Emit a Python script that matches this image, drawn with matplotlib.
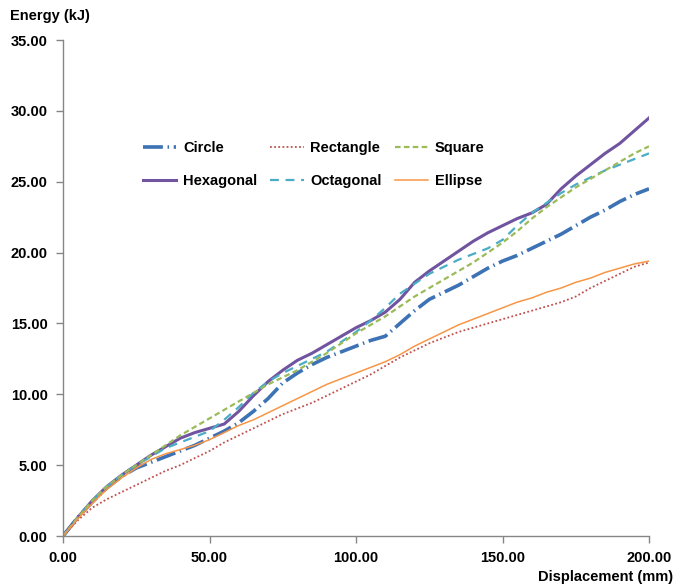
import matplotlib.pyplot as plt
import numpy as np

# displacement (mm)
disp = np.arange(0, 201, 5)

circle = [0, 1.3, 2.4, 3.4, 4.2, 4.8, 5.2, 5.6, 6.0, 6.4, 6.9, 7.4, 8.0, 8.8, 9.7,
          10.8, 11.5, 12.1, 12.6, 13.0, 13.4, 13.8, 14.1, 15.0, 15.9, 16.7, 17.2,
          17.7, 18.3, 18.9, 19.4, 19.8, 20.3, 20.8, 21.3, 21.9, 22.5, 23.0, 23.6,
          24.1, 24.5]
rectangle = [0, 1.1, 2.0, 2.6, 3.1, 3.6, 4.1, 4.6, 5.0, 5.5, 6.0, 6.6, 7.1, 7.6, 8.1,
             8.6, 9.0, 9.4, 9.9, 10.4, 10.9, 11.4, 12.0, 12.6, 13.1, 13.6, 14.0,
             14.4, 14.7, 15.0, 15.3, 15.6, 15.9, 16.2, 16.5, 16.9, 17.5, 18.0, 18.5,
             19.0, 19.3]
square = [0, 1.3, 2.5, 3.5, 4.3, 5.0, 5.7, 6.4, 7.1, 7.7, 8.3, 8.9, 9.5, 10.1, 10.7,
          11.2, 11.7, 12.3, 12.9, 13.6, 14.3, 14.9, 15.5, 16.2, 16.9, 17.5, 18.1,
          18.7, 19.3, 20.0, 20.7, 21.5, 22.4, 23.2, 23.9, 24.6, 25.2, 25.8, 26.4,
          27.0, 27.5]
hexagonal = [0, 1.3, 2.5, 3.5, 4.3, 5.0, 5.7, 6.3, 6.9, 7.3, 7.6, 7.9, 8.8, 9.9, 10.9,
             11.7, 12.4, 12.9, 13.5, 14.1, 14.7, 15.2, 15.8, 16.7, 17.9, 18.7, 19.4,
             20.1, 20.8, 21.4, 21.9, 22.4, 22.8, 23.4, 24.5, 25.4, 26.2, 27.0, 27.7,
             28.6, 29.5]
octagonal = [0, 1.3, 2.5, 3.5, 4.3, 5.0, 5.6, 6.2, 6.6, 7.0, 7.4, 8.2, 9.1, 10.1, 10.9,
             11.5, 12.0, 12.5, 13.0, 13.7, 14.4, 15.2, 16.1, 17.1, 17.8, 18.5, 19.0,
             19.5, 19.9, 20.3, 20.9, 21.9, 22.8, 23.5, 24.2, 24.8, 25.3, 25.8, 26.2,
             26.6, 27.0]
ellipse = [0, 1.2, 2.3, 3.3, 4.1, 4.8, 5.4, 5.8, 6.1, 6.4, 6.8, 7.3, 7.8, 8.2, 8.7,
           9.2, 9.7, 10.2, 10.7, 11.1, 11.5, 11.9, 12.3, 12.8, 13.4, 13.9, 14.4,
           14.9, 15.3, 15.7, 16.1, 16.5, 16.8, 17.2, 17.5, 17.9, 18.2, 18.6, 18.9,
           19.2, 19.4]

plt.rcParams['font.family'] = ['Liberation Sans', 'DejaVu Sans']
plt.rcParams['font.weight'] = 'bold'

fig = plt.figure(figsize=(6.9, 5.86), dpi=100)
ax = fig.add_axes([0.0913, 0.0853, 0.8493, 0.8464])

ax.plot(disp, circle, color='#3D72B5', lw=2.6, dashes=(5.5, 1.3, 0.4, 1.3), label='Circle')
ax.plot(disp, hexagonal, color='#7154A0', lw=2.2, label='Hexagonal')
ax.plot(disp, rectangle, color='#C0504D', lw=1.3, dashes=(1, 1.3), label='Rectangle')
ax.plot(disp, octagonal, color='#4BACC6', lw=1.6, dashes=(4, 3), label='Octagonal')
ax.plot(disp, square, color='#9BBB59', lw=1.6, dashes=(2.5, 1.5), label='Square')
ax.plot(disp, ellipse, color='#F79646', lw=1.1, label='Ellipse')

ax.set_xlim(0, 200)
ax.set_ylim(0, 35)
ax.set_xticks(np.arange(0, 201, 50))
ax.set_yticks(np.arange(0, 35.1, 5))
ax.xaxis.set_major_formatter(plt.FormatStrFormatter('%.2f'))
ax.yaxis.set_major_formatter(plt.FormatStrFormatter('%.2f'))

for s in ['top', 'right']:
    ax.spines[s].set_visible(False)
for s in ['left', 'bottom']:
    ax.spines[s].set_color('#868686')
    ax.spines[s].set_linewidth(1.0)
ax.tick_params(direction='out', length=5, width=1, color='#868686',
               labelsize=10.5, pad=6)
for lab in ax.get_xticklabels() + ax.get_yticklabels():
    lab.set_fontweight('bold')

fig.text(0.015, 0.972, 'Energy (kJ)', fontsize=10.5, fontweight='bold', va='center', ha='left')
fig.text(0.975, 0.015, 'Displacement (mm)', fontsize=10.5, fontweight='bold', va='center', ha='right')

leg = ax.legend(ncol=3, loc='center', bbox_to_anchor=(0.428, 0.749), frameon=False,
                fontsize=10.5, handlelength=2.3, columnspacing=0.9, labelspacing=1.35,
                handletextpad=0.45)
for t in leg.get_texts():
    t.set_fontweight('bold')

fig.savefig('out.png', dpi=100)
